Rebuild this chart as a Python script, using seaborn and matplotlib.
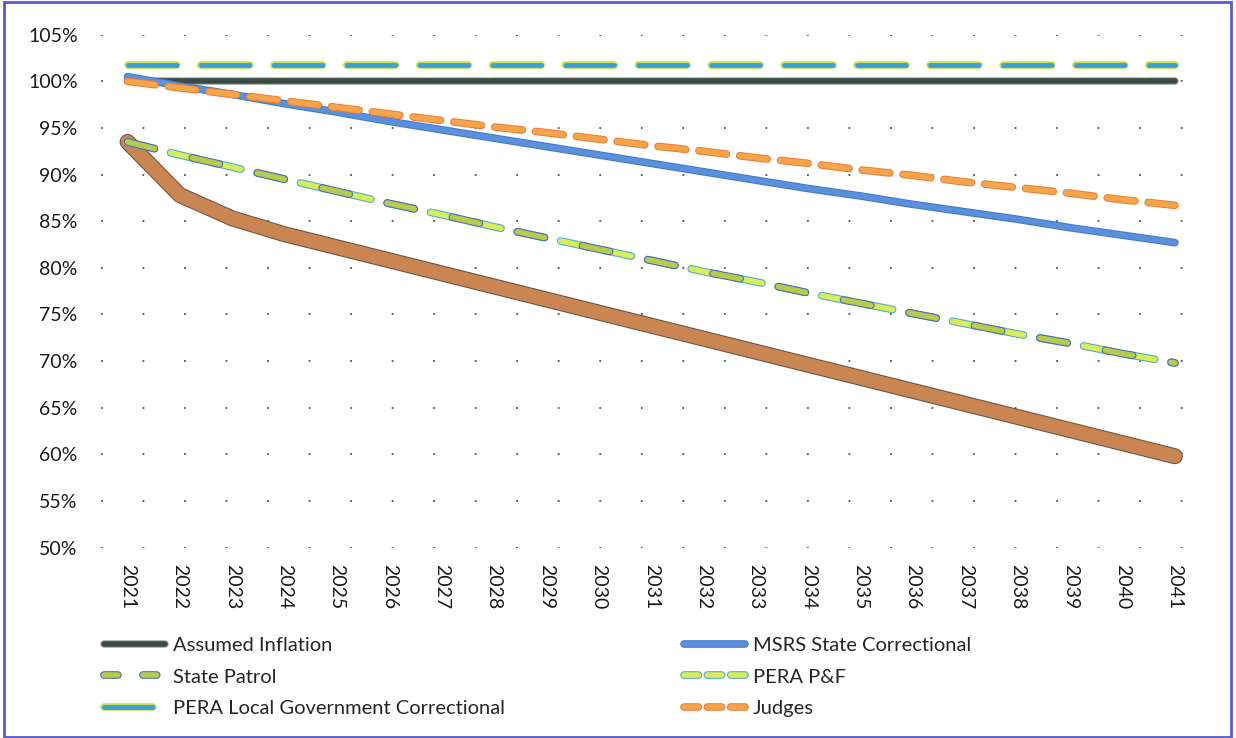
import matplotlib
matplotlib.use("Agg")
import matplotlib.pyplot as plt
import matplotlib.patheffects as pe
from matplotlib.lines import Line2D
from matplotlib.ticker import FuncFormatter
import pandas as pd
import seaborn as sns

years = list(range(2021, 2042))

assumed_inflation = [100.0] * 21
msrs_state_correctional = [100.5, 99.5, 98.6, 97.6, 96.7, 95.7, 94.8, 93.9, 93.0, 92.1, 91.2,
                           90.3, 89.4, 88.5, 87.7, 86.8, 86.0, 85.2, 84.3, 83.5, 82.7]
state_patrol = [93.5, 92.1, 90.8, 89.5, 88.2, 86.9, 85.7, 84.4, 83.2, 82.0, 80.8,
                79.6, 78.5, 77.3, 76.2, 75.1, 74.0, 72.9, 71.9, 70.8, 69.8]
pera_pf = [93.5, 92.1, 90.8, 89.5, 88.2, 86.9, 85.7, 84.4, 83.2, 82.0, 80.8,
           79.6, 78.5, 77.3, 76.2, 75.1, 74.0, 72.9, 71.9, 70.8, 69.8]
pera_local_correctional = [101.7] * 21
judges = [100.0, 99.3, 98.6, 97.9, 97.2, 96.5, 95.8, 95.1, 94.5, 93.8, 93.1,
          92.5, 91.8, 91.2, 90.5, 89.9, 89.2, 88.6, 88.0, 87.3, 86.7]
# hand-drawn brown line on the scan (no legend entry)
drawn_line = [93.5, 87.8, 85.3, 83.6, 82.2, 80.8, 79.4, 78.0, 76.6, 75.2, 73.8,
              72.4, 71.0, 69.6, 68.2, 66.8, 65.4, 64.0, 62.6, 61.2, 59.8]

sns.set_style("white")
plt.rcParams['font.family'] = ['Lato', 'DejaVu Sans']

fig = plt.figure(figsize=(12.36, 7.38), dpi=100)
ax = fig.add_axes([0.082, 0.258, 0.894, 0.695])

def outline(color, w):
    return [pe.Stroke(linewidth=w, foreground=color), pe.Normal()]

styles = {
    'drawn': dict(color='#c98652', lw=10, solid_capstyle='round',
                  path_effects=outline('#6a5240', 11.5)),
    'Assumed Inflation': dict(color='#3c4a44', lw=4, solid_capstyle='round',
                              path_effects=outline('#9bb0a6', 5.5)),
    'MSRS State Correctional': dict(color='#5b90da', lw=4, solid_capstyle='round',
                                    path_effects=outline('#3f78d0', 5.5)),
    'PERA Local Government Correctional': dict(color='#3aa0d8', lw=3.5, dashes=(10, 5),
                                               solid_capstyle='round', dash_capstyle='round',
                                               path_effects=outline('#c8e050', 5.5)),
    'Judges': dict(color='#f6a64a', lw=4, dashes=(5, 2.4), dash_capstyle='round',
                   path_effects=outline('#f07a3a', 5.5)),
    'PERA P&F': dict(color='#d8ee5a', lw=4, dashes=(5, 3), dash_capstyle='round',
                     path_effects=outline('#4aa8d8', 5.5)),
    'State Patrol': dict(color='#b7cc48', lw=4, dashes=(5, 7), dash_capstyle='round',
                         path_effects=outline('#4868c0', 5.5)),
}

series = [
    ('drawn', drawn_line),
    ('Assumed Inflation', assumed_inflation),
    ('MSRS State Correctional', msrs_state_correctional),
    ('PERA Local Government Correctional', pera_local_correctional),
    ('Judges', judges),
    ('PERA P&F', pera_pf),
    ('State Patrol', state_patrol),
]

for name, vals in series:
    df = pd.DataFrame({'year': years, 'value': vals})
    sns.lineplot(data=df, x='year', y='value', ax=ax, legend=False, **styles[name])

ax.set_xlim(2020.5, 2041.6)
ax.set_ylim(50, 105)
ax.set_yticks(range(50, 106, 5))
ax.yaxis.set_major_formatter(FuncFormatter(lambda v, p: f"{int(v)}%"))
ax.set_xticks(years)
ax.set_xticklabels([str(y) for y in years], rotation=-90)
ax.tick_params(axis='both', labelsize=14, colors='#1a1a1a', length=0)
ax.tick_params(axis='y', pad=17)
ax.tick_params(axis='x', pad=12)
ax.set_xlabel('')
ax.set_ylabel('')
for s in ax.spines.values():
    s.set_visible(False)
ax.grid(axis='y', color='#222222', linewidth=1.3, linestyle=(0, (1, 22)), alpha=0.8)
ax.set_axisbelow(True)

# legend in excel row order; legend dashes a bit shorter like the original key
legend_dashes = {'State Patrol': (2.5, 4.5), 'PERA P&F': (2.6, 1.6), 'Judges': (2.6, 1.6)}
order = ['Assumed Inflation', 'State Patrol', 'PERA Local Government Correctional',
         'MSRS State Correctional', 'PERA P&F', 'Judges']
handles = []
for n in order:
    kw = dict(styles[n])
    if n in legend_dashes:
        kw['dashes'] = legend_dashes[n]
    handles.append(Line2D([0], [0], **kw))
fig.legend(handles, order, loc='upper left', bbox_to_anchor=(0.078, 0.148),
           ncol=2, frameon=False, fontsize=14.5, handlelength=3.0, handletextpad=0.4,
           labelspacing=0.72, columnspacing=8.9, borderaxespad=0)

# scanned page frame
fig.patches.append(plt.Rectangle((0.003, 0.002), 0.993, 0.995, transform=fig.transFigure,
                                 fill=False, edgecolor='#5a5ad0', linewidth=2))

fig.savefig('out.png', dpi=100)
